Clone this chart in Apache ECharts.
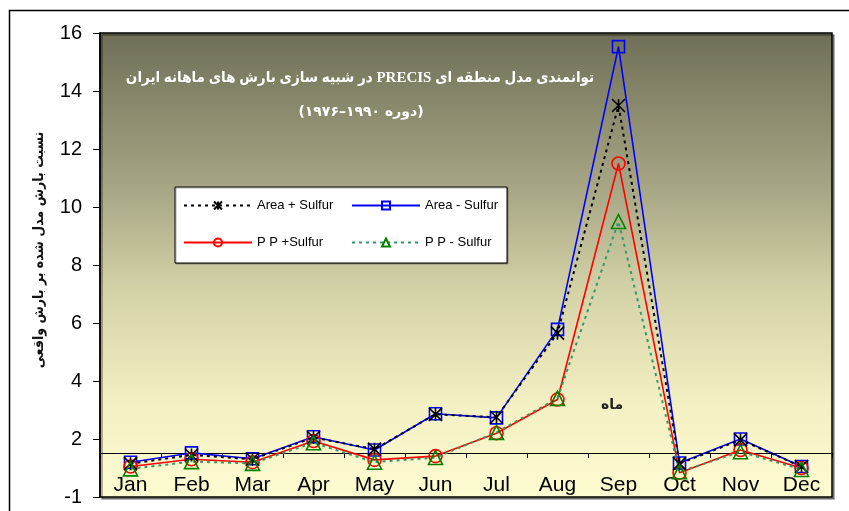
<!DOCTYPE html>
<html>
<head>
<meta charset="utf-8">
<script src="https://cdn.jsdelivr.net/npm/echarts@6/dist/echarts.min.js"></script>
<style>html,body{margin:0;padding:0;background:#fff;}#c{width:849px;height:511px;}</style>
</head>
<body>
<div id="c"></div>
<script>
const months = ['Jan','Feb','Mar','Apr','May','Jun','Jul','Aug','Sep','Oct','Nov','Dec'];
const areaPlusSulfur  = [1.15, 1.45, 1.30, 2.05, 1.65, 2.85, 2.75, 5.65, 13.50, 1.15, 1.97, 1.05];
const areaMinusSulfur = [1.20, 1.52, 1.32, 2.08, 1.62, 2.87, 2.73, 5.78, 15.53, 1.17, 2.00, 1.05];
const ppPlusSulfur    = [1.05, 1.30, 1.20, 1.93, 1.28, 1.41, 2.20, 3.36, 11.50, 0.84, 1.62, 1.00];
const ppMinusSulfur   = [0.97, 1.22, 1.16, 1.87, 1.20, 1.36, 2.23, 3.40, 9.50, 0.87, 1.56, 0.95];
const seriesNames = ['Area + Sulfur', 'Area - Sulfur', 'P P +Sulfur', 'P P - Sulfur'];
const titleText = 'توانمندی مدل منطقه ای PRECIS در شبیه سازی بارش های ماهانه ایران';
const subtitleText = '(دوره ۱۹۹۰–۱۹۷۶)';
const yAxisTitle = 'نسبت بارش مدل شده بر بارش واقعی';
const xAxisTitle = 'ماه';
const axisCross = 1.5;

const chart = echarts.init(document.getElementById('c'), null, {renderer: 'canvas'});
const starPath = 'path://M0,0L10,10M10,0L0,10M5,0L5,10';

chart.setOption({
  animation: false,
  grid: [
    {left: 100, right: 17, top: 33, bottom: 14, show: true,
     backgroundColor: new echarts.graphic.LinearGradient(0, 0, 0, 1, [
       {offset: 0, color: '#6f6f57'},
       {offset: 0.33, color: '#a6a584'},
       {offset: 0.55, color: '#d3d1a6'},
       {offset: 0.8, color: '#f3f1c3'},
       {offset: 1, color: '#fdfbd0'}
     ]),
     borderColor: '#000', borderWidth: 1.5,
     shadowColor: 'rgba(0,0,0,0.4)', shadowOffsetX: 2, shadowOffsetY: 2, shadowBlur: 0},
    {left: 100, right: 17, top: 33, bottom: 58}
  ],
  xAxis: [
    {type: 'category', data: months, gridIndex: 0, boundaryGap: true,
     axisLine: {show: false}, axisTick: {show: false}, axisLabel: {show: false}},
    {type: 'category', data: months, gridIndex: 1, boundaryGap: true,
     axisLine: {show: true, lineStyle: {color: '#000', width: 1}},
     axisTick: {show: true, length: 5, inside: false, lineStyle: {color: '#000'}},
     axisLabel: {show: true, margin: 22, fontSize: 21, color: '#000', fontFamily: 'Liberation Sans, Arial'}}
  ],
  yAxis: [
    {type: 'value', gridIndex: 0, min: 0, max: 16, interval: 2,
     axisLine: {show: true, lineStyle: {color: '#000', width: 1.5}},
     axisTick: {show: true, length: 7, lineStyle: {color: '#000'}},
     splitLine: {show: false},
     axisLabel: {margin: 18, fontSize: 20, color: '#000', fontFamily: 'Liberation Sans, Arial',
       formatter: v => (v === 0 ? '-1' : String(v))}},
    {type: 'value', gridIndex: 1, min: axisCross, max: 16, show: false}
  ],
  legend: {
    left: 175, top: 187, width: 322,
    orient: 'horizontal',
    padding: [7, 2, 9, 8],
    itemGap: 14, itemWidth: 68, itemHeight: 10,
    backgroundColor: '#fff', borderColor: '#000', borderWidth: 1,
    shadowColor: 'rgba(0,0,0,0.3)', shadowOffsetX: 1, shadowOffsetY: 1, shadowBlur: 0,
    textStyle: {fontSize: 13, color: '#000', fontFamily: 'Liberation Sans, Arial', width: 80, lineHeight: 23, height: 23},
    data: seriesNames
  },
  series: [
    {name: seriesNames[0], type: 'line', data: areaPlusSulfur, z: 4,
     symbol: starPath, symbolSize: 13,
     lineStyle: {color: '#000', width: 2, type: [3, 4]},
     itemStyle: {color: 'rgba(0,0,0,0)', borderColor: '#000', borderWidth: 1.6}},
    {name: seriesNames[1], type: 'line', data: areaMinusSulfur, z: 3,
     symbol: 'rect', symbolSize: 12,
     lineStyle: {color: '#0000ff', width: 1.6},
     itemStyle: {color: 'rgba(0,0,0,0)', borderColor: '#0000ff', borderWidth: 1.6}},
    {name: seriesNames[2], type: 'line', data: ppPlusSulfur, z: 3,
     symbol: 'circle', symbolSize: 13,
     lineStyle: {color: '#ff0000', width: 1.6},
     itemStyle: {color: 'rgba(0,0,0,0)', borderColor: '#ff0000', borderWidth: 1.6}},
    {name: seriesNames[3], type: 'line', data: ppMinusSulfur, z: 4,
     symbol: 'triangle', symbolSize: 14,
     lineStyle: {color: '#339966', width: 2, type: [3, 4]},
     itemStyle: {color: 'rgba(0,0,0,0)', borderColor: '#008000', borderWidth: 1.6}}
  ],
  graphic: [
    {type: 'rect', silent: true, z: 100,
     shape: {x: 9.5, y: 10.5, width: 860, height: 520},
     style: {fill: 'none', stroke: '#000', lineWidth: 1.5}},
    {type: 'text', z: 100, x: 360, y: 78,
     style: {text: '\u202B' + titleText + '\u202C', fill: '#fff', textAlign: 'center', textVerticalAlign: 'middle',
       font: 'bold 15px "Liberation Serif", "DejaVu Sans Condensed", "DejaVu Sans"'}},
    {type: 'text', z: 100, x: 361, y: 112,
     style: {text: subtitleText, fill: '#fff', textAlign: 'center', textVerticalAlign: 'middle',
       font: 'bold 14px "DejaVu Sans"'}},
    {type: 'text', z: 100, x: 612, y: 405,
     style: {text: xAxisTitle, fill: '#222', textAlign: 'center', textVerticalAlign: 'middle',
       font: 'bold 14px "DejaVu Sans"'}},
    {type: 'text', z: 100, x: 39, y: 250, rotation: Math.PI / 2,
     style: {text: yAxisTitle, fill: '#111', textAlign: 'center', textVerticalAlign: 'middle',
       font: 'bold 14px "DejaVu Sans Condensed", "DejaVu Sans"'}}
  ]
});
</script>
</body>
</html>
